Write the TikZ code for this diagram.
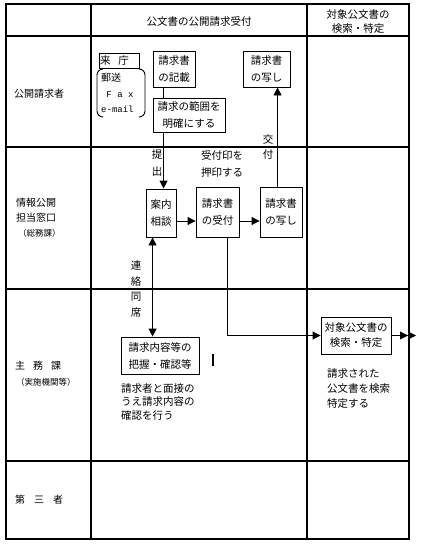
\documentclass[tikz,border=0pt]{standalone}
\usepackage{fontspec}
\setmainfont{Noto Sans CJK JP}
\newfontfamily\monof{Liberation Mono}
\usetikzlibrary{arrows.meta}
\begin{document}
\begin{tikzpicture}[x=1pt,y=-1pt,
  tbl/.style={line width=1.7pt},
  box/.style={draw, line width=0.9pt, align=center, inner sep=0pt, font=\fontsize{10.5}{17}\selectfont},
  lbl/.style={align=center, inner sep=0pt, font=\fontsize{10.5}{17}\selectfont},
  rowlbl/.style={anchor=west, inner sep=0pt, font=\fontsize{10}{12}\selectfont},
  small/.style={anchor=west, inner sep=0pt, font=\fontsize{8.5}{10}\selectfont},
  conn/.style={line width=0.9pt},
  arr/.style={conn, -{Triangle[length=8pt,width=8pt]}},
]
\useasboundingbox (0,0) rectangle (421,547);
% table
\draw[tbl] (6,4) rectangle (409,539);
\draw[tbl] (91,4) -- (91,539);
\draw[tbl] (307,4) -- (307,539);
\draw[tbl] (6,36) -- (409,36);
\draw[tbl] (6,147) -- (409,147);
\draw[tbl] (6,289) -- (409,289);
\draw[tbl] (6,461) -- (409,461);
% headers
\node[lbl] (h2) at (199,22) {公文書の公開請求受付};
\node[lbl, font=\fontsize{10.5}{14}\selectfont] (h3) at (358,22) {対象公文書の\\検索・特定};
% row labels
\node[rowlbl] (r1) at (14,94) {公開請求者};
\node[rowlbl] (r2a) at (16,203) {情報公開};
\node[rowlbl] (r2b) at (16,218) {担当窓口};
\node[small] (r2c) at (18,233) {（総務課）};
\node[rowlbl] (r3a) at (15,366) {主\hspace{8pt}務\hspace{8pt}課};
\node[small] (r3b) at (16,382) {（実施機関等）};
\node[rowlbl] (r4) at (15,500) {第\hspace{9pt}三\hspace{9pt}者};
% row 1
\node[box, minimum width=40pt, minimum height=15pt, text width=38pt, align=left] (raichou) at (119,60.5) {来\hspace{8pt}庁};
\draw[conn] (103,69) to[out=180,in=90] (97,75) -- (97,111) to[out=-90,in=180] (103,117);
\draw[conn] (139,69) to[out=0,in=90] (145,75) -- (145,111) to[out=-90,in=0] (139,117);
\node[rowlbl, font=\fontsize{10}{12}\selectfont] (yuso) at (101,78) {郵送};
\node[lbl, font=\monof\fontsize{9}{10}\selectfont] (fax) at (120,95) {F a x};
\node[rowlbl, font=\monof\fontsize{9}{10}\selectfont] (email) at (101,109) {e-mail};
\node[box, minimum width=42pt, minimum height=36pt] (kisai) at (174,69) {請求書\\の記載};
\node[box, minimum width=72pt, minimum height=34pt] (hani) at (189,115) {請求の範囲を\\明確にする};
\node[box, minimum width=47pt, minimum height=36pt] (utsushi1) at (266.5,69) {請求書\\の写し};
% row 2
\node[box, minimum width=30pt, minimum height=48pt] (annai) at (161,213) {案内\\相談};
\node[box, minimum width=43pt, minimum height=50pt] (uketsuke) at (217.5,212) {請求書\\の受付};
\node[box, minimum width=42pt, minimum height=50pt] (utsushi2) at (281,212) {請求書\\の写し};
% row 3
\node[box, minimum width=78pt, minimum height=37pt] (haaku) at (160,355.5) {請求内容等の\\把握・確認等};
\node[box, minimum width=70pt, minimum height=37pt, font=\fontsize{10.5}{15}\selectfont] (kensaku) at (356,335.5) {対象公文書の\\検索・特定};
\draw[line width=1.5pt] (213,354) -- (213,366);
\node[lbl, anchor=north west, align=left, font=\fontsize{10.5}{13.5}\selectfont] (note1) at (121,383) {請求者と面接の\\うえ請求内容の\\確認を行う};
\node[lbl, anchor=north west, align=left, font=\fontsize{10.5}{15}\selectfont] (note2) at (327,368) {請求された\\公文書を検索\\特定する};
% labels on connectors
\node[lbl] (teishutsu) at (157,163.5) {提\\出};
\node[lbl] (ukeinn) at (222,163.5) {受付印を\\押印する};
\node[lbl, font=\fontsize{10.5}{15}\selectfont] (koufu) at (268,147.5) {交\\付};
\node[lbl, font=\fontsize{10.5}{15.7}\selectfont] (renraku) at (136,289) {連\\絡\\同\\席};
% connectors
\coordinate (k1) at ([xshift=11pt]kisai.south west);
\draw[conn] (k1) -- (k1 |- hani.north);
\coordinate (h1) at ([xshift=11pt]hani.south west);
\draw[arr] (h1) -- (h1 |- annai.north);
\coordinate (u2) at ([xshift=18pt]utsushi2.north west);
\draw[arr] (u2) -- (u2 |- utsushi1.south);
\coordinate (a3) at ([yshift=-8pt]annai.east);
\draw[arr] (a3) -- (a3 -| uketsuke.west);
\coordinate (b3) at ([yshift=-9pt]uketsuke.east);
\draw[arr] (b3) -- (b3 -| utsushi2.west);
\coordinate (a2) at ([xshift=7pt]annai.south west);
\draw[conn, {Triangle[length=8pt,width=8pt]}-{Triangle[length=8pt,width=8pt]}] (a2) -- (a2 |- haaku.north);
\coordinate (uk1) at ([xshift=32pt]uketsuke.south west);
\draw[arr] (uk1) |- (kensaku.west);
\coordinate (endR) at (417,335.5);
\draw[conn, -{Triangle[length=8pt,width=8pt] Triangle[length=8pt,width=8pt,sep=1pt]}] (kensaku.east) -- (endR);
\end{tikzpicture}
\end{document}
